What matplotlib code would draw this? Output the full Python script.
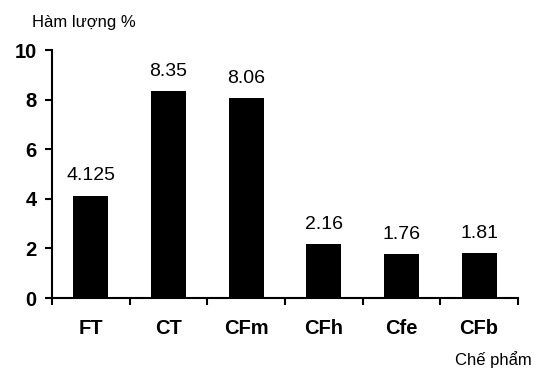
import matplotlib.pyplot as plt
import numpy as np

plt.rcParams['font.family'] = ['Liberation Sans', 'DejaVu Sans']

categories = ['FT', 'CT', 'CFm', 'CFh', 'Cfe', 'CFb']
values = [4.125, 8.35, 8.06, 2.16, 1.76, 1.81]
value_labels = ['4.125', '8.35', '8.06', '2.16', '1.76', '1.81']
yticks = [0, 2, 4, 6, 8, 10]

fig = plt.figure(figsize=(5.44, 3.69), dpi=100)
ax = fig.add_axes([0.0956, 0.1924, 0.8564, 0.672])

x = np.arange(len(categories))
ax.bar(x, values, width=0.45, color='black')

for xi, v, lab in zip(x, values, value_labels):
    ax.text(xi, v + 0.62, lab, ha='center', va='baseline', fontsize=14)

ax.set_xlim(-0.5, len(categories) - 0.5)
ax.set_ylim(0, 10)
ax.set_yticks(yticks)
ax.set_yticklabels([str(t) for t in yticks], fontsize=14.5, fontweight='bold')

# category ticks sit between the bars, labels centred under them
ax.set_xticks(np.arange(len(categories) + 1) - 0.5)
ax.set_xticklabels([])
ax.set_xticks(x, minor=True)
ax.set_xticklabels(categories, minor=True, fontsize=14.5, fontweight='bold')
ax.tick_params(axis='x', which='minor', length=0, pad=15)
ax.tick_params(axis='x', which='major', length=5, width=1.5, direction='out')
ax.tick_params(axis='y', length=5, width=1.5, direction='out', pad=6)

for s in ['top', 'right']:
    ax.spines[s].set_visible(False)
for s in ['left', 'bottom']:
    ax.spines[s].set_linewidth(1.5)

fig.text(0.059, 0.927, 'Hàm lượng %', fontsize=12, va='baseline')
fig.text(0.836, 0.012, 'Chế phẩm', fontsize=12, va='baseline')

fig.savefig('out.png', dpi=100)
